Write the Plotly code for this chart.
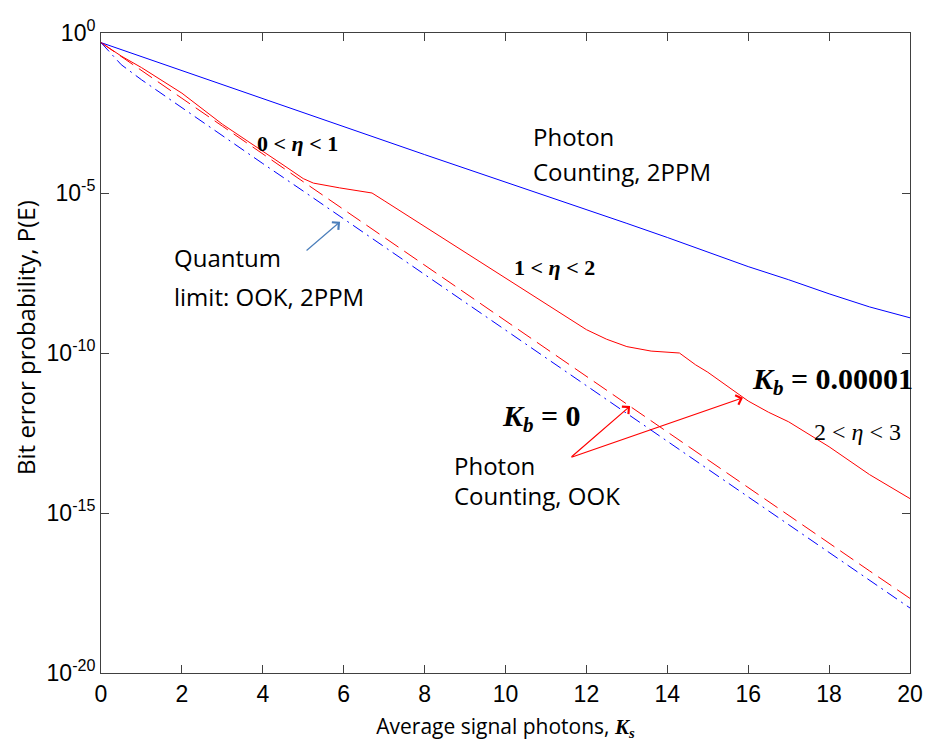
import plotly.graph_objects as go

# Average signal photons K_s
ks = [0, 0.5, 1, 2, 3, 4, 5, 6, 7, 8, 9, 10, 11, 12, 13, 14, 15, 16, 17, 18, 19, 20]

# log10 of bit error probability
pc_2ppm_log = [-0.30, -0.52, -0.74, -1.17, -1.62, -2.06, -2.50, -2.94, -3.36, -3.80, -4.23,
               -4.66, -5.08, -5.50, -5.95, -6.39, -6.85, -7.30, -7.71, -8.15, -8.56, -8.90]

# Photon counting OOK, Kb = 0.00001 (finer sampling for the kinks)
ks_kb = [0, 0.5, 1, 2, 3, 4, 4.5, 5, 5.25, 5.9, 6.7, 7, 8, 9, 10, 11, 12, 12.5,
         13, 13.6, 14.3, 14.7, 15, 16, 16.5, 17, 18, 19, 20]
pc_ook_kb_log = [-0.30, -0.72, -1.08, -1.88, -2.85, -3.68, -4.12, -4.55, -4.69, -4.84, -5.00,
                 -5.24, -6.05, -6.86, -7.67, -8.48, -9.27, -9.57, -9.80, -9.94, -10.00,
                 -10.37, -10.60, -11.50, -11.85, -12.15, -12.93, -13.80, -14.55]

# Photon counting OOK, Kb = 0
pc_ook_log = [-0.30, -0.73, -1.17, -2.04, -2.91, -3.78, -4.65, -5.52, -6.39, -7.25, -8.12,
              -8.99, -9.86, -10.73, -11.60, -12.46, -13.33, -14.20, -15.07, -15.94, -16.81, -17.67]

# Quantum limit: OOK, 2PPM
ql_log = [-0.30, -0.99, -1.46, -2.34, -3.21, -4.08, -4.94, -5.81, -6.68, -7.55, -8.42,
          -9.29, -10.16, -11.03, -11.90, -12.76, -13.63, -14.50, -15.37, -16.24, -17.11, -17.97]

x_ticks = [0, 2, 4, 6, 8, 10, 12, 14, 16, 18, 20]
y_ticks_exp = [0, -5, -10, -15, -20]

to_val = lambda arr: [10 ** v for v in arr]

fig = go.Figure()
fig.add_trace(go.Scatter(x=ks, y=to_val(pc_2ppm_log), mode="lines",
                         line=dict(color="#0000ff", width=1)))
fig.add_trace(go.Scatter(x=ks_kb, y=to_val(pc_ook_kb_log), mode="lines",
                         line=dict(color="#ff0000", width=1)))
fig.add_trace(go.Scatter(x=ks, y=to_val(pc_ook_log), mode="lines",
                         line=dict(color="#ff0000", width=1, dash="16px,7px")))
fig.add_trace(go.Scatter(x=ks, y=to_val(ql_log), mode="lines",
                         line=dict(color="#0000ff", width=1, dash="12px,5px,2px,5px")))

serif = "Liberation Serif"
sans = "Open Sans"
txt_color = "#000000"

def eta(a, b, bold=True):
    s = f"{a} &lt; <i>η</i> &lt; {b}"
    return f"<b>{s}</b>" if bold else s

ann = []
ann.append(dict(x=4.85, y=-3.44, text=eta(0, 1), font=dict(family=serif, size=22)))
ann.append(dict(x=11.22, y=-7.34, text=eta(1, 2), font=dict(family=serif, size=22)))
ann.append(dict(x=18.71, y=-12.47, text=eta(2, 3, bold=False), font=dict(family=serif, size=24)))
ann.append(dict(x=16.04, y=-10.88, text="<b><i>K</i><sub><i>b</i></sub> = 0.00001</b>", xanchor="left",
                font=dict(family=serif, size=30)))
ann.append(dict(x=9.86, y=-12.03, text="<b><i>K</i><sub><i>b</i></sub> = 0</b>", xanchor="left",
                font=dict(family=serif, size=30)))
for x, y, t in [(10.63, -3.22, "Photon"), (10.63, -4.34, "Counting, 2PPM"),
                (1.76, -7.03, "Quantum"), (1.76, -8.22, "limit: OOK, 2PPM"),
                (8.68, -13.50, "Photon"), (8.68, -14.44, "Counting, OOK")]:
    ann.append(dict(x=x, y=y, text=t, xanchor="left", font=dict(family=sans, size=24)))
for a in ann:
    a.update(xref="x", yref="y", showarrow=False)
    a["font"]["color"] = txt_color

# y-axis title as rotated annotation
ann.append(dict(xref="paper", yref="paper", x=-0.094, y=0.525, xanchor="center", yanchor="middle",
                text="Bit error probability, P(E)", textangle=-90, showarrow=False,
                font=dict(family=sans, size=24, color="#000000")))

# arrows
arrows = [
    dict(x=5.91, y=-5.9, ax=-35, ay=30, arrowcolor="#4a7ebb"),
    dict(x=13.08, y=-11.66, ax=-60, ay=52, arrowcolor="#ff0000"),
    dict(x=15.87, y=-11.40, ax=-173, ay=60, arrowcolor="#ff0000"),
]
for a in arrows:
    a.update(xref="x", yref="y", showarrow=True, text="", arrowhead=4, arrowsize=1.6,
             arrowwidth=1.2, standoff=0, startstandoff=0)
    ann.append(a)

axis_common = dict(showline=True, linecolor="#404040", linewidth=1, mirror="ticks",
                   ticks="inside", ticklen=8, tickcolor="#404040", showgrid=False, zeroline=False,
                   automargin=False,
                   tickfont=dict(family="Liberation Sans", size=23, color="#000000"))

fig.update_layout(
    width=925, height=741,
    margin=dict(l=101, r=15, t=33, b=68),
    paper_bgcolor="white", plot_bgcolor="white",
    showlegend=False,
    annotations=ann,
    xaxis=dict(range=[0, 20], tickvals=x_ticks, ticktext=[str(v) for v in x_ticks],
               title=dict(text="Average signal photons, <span style=\"font-family:'Liberation Serif'\"><b><i>K</i></b><sub><b><i>s</i></b></sub></span>",
                          font=dict(family=sans, size=21, color="#000000")),
               **axis_common),
    yaxis=dict(type="log", range=[-20, 0], tickvals=[10 ** e for e in y_ticks_exp],
               ticktext=[f"10<sup>{e}</sup>" for e in y_ticks_exp],
               **axis_common),
)

fig.write_html("out.html")
